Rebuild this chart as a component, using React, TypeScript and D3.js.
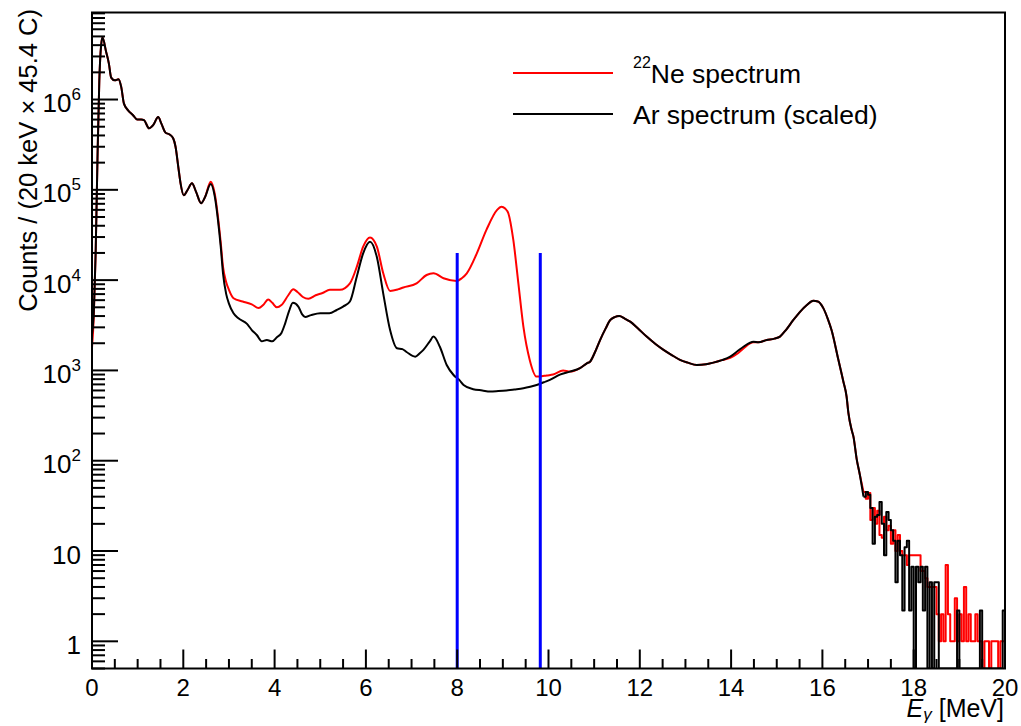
import React from "react";
import * as d3 from "d3";

// ---------- data ----------
// 22Ne spectrum, smooth region (MeV, counts per 20 keV)
const neE = [0.00,0.04,0.08,0.12,0.16,0.20,0.23,0.31,0.37,0.42,0.50,0.58,0.64,0.70,0.79,0.90,0.99,1.08,1.14,1.25,1.34,1.45,1.52,1.61,1.70,1.78,1.83,1.89,1.94,2.01,2.09,2.19,2.28,2.39,2.48,2.60,2.69,2.76,2.82,2.87,2.94,3.00,3.10,3.30,3.50,3.65,3.75,3.86,3.95,4.05,4.15,4.30,4.41,4.50,4.62,4.74,4.90,5.05,5.21,5.43,5.65,5.80,5.94,6.09,6.24,6.38,6.53,6.70,6.82,7.11,7.33,7.48,7.70,7.99,8.10,8.21,8.43,8.64,8.87,8.97,9.05,9.12,9.23,9.34,9.45,9.59,9.74,9.85,9.96,10.10,10.32,10.47,10.69,10.84,10.91,11.02,11.13,11.25,11.35,11.45,11.55,11.67,11.79,11.95,12.15,12.35,12.52,12.70,12.88,13.05,13.25,13.45,13.61,13.80,13.98,14.15,14.27,14.49,14.60,14.78,14.95,15.07,15.20,15.36,15.50,15.66,15.80,15.90,16.02,16.12,16.20,16.35,16.46,16.53,16.57,16.64,16.68,16.75,16.82,16.90];
const neV = [1800,4000,2.0e4,2.2e5,1.6e6,4.0e6,4.85e6,3.36e6,2.5e6,1.75e6,1.63e6,1.68e6,1.38e6,9.0e5,7.6e5,6.7e5,6.0e5,6.0e5,5.9e5,4.8e5,5.2e5,6.4e5,5.4e5,4.3e5,4.1e5,3.7e5,3.0e5,1.8e5,1.18e5,8.7e4,9.9e4,1.18e5,9.5e4,7.1e4,8.4e4,1.23e5,9.0e4,5.0e4,2.6e4,1.4e4,9.5e3,7.8e3,6.3e3,5.8e3,5.4e3,4.9e3,5.3e3,6.1e3,5.6e3,5.0e3,5.3e3,6.8e3,7.9e3,7.4e3,6.5e3,6.2e3,6.8e3,7.2e3,7.8e3,7.8e3,9.2e3,1.4e4,2.35e4,2.97e4,2.35e4,1.19e4,7.6e3,7.9e3,8.3e3,9.2e3,1.14e4,1.19e4,1.05e4,9.8e3,1.05e4,1.19e4,1.98e4,3.6e4,5.96e4,6.5e4,6.2e4,5.5e4,2.77e4,9.2e3,3.05e3,1.3e3,854,860,880,900,1000,970,1060,1200,1250,1600,2170,2900,3600,3900,4000,3750,3470,2950,2370,1950,1690,1480,1310,1220,1150,1170,1220,1300,1380,1550,1750,2050,2050,2170,2250,2370,2800,3600,4400,5300,5900,5800,4900,3700,2800,1310,750,513,336,220,185,105,70,45];

// Ar spectrum (scaled), smooth region
const arE = [0.00,0.04,0.08,0.12,0.16,0.20,0.23,0.31,0.37,0.42,0.50,0.58,0.64,0.70,0.79,0.90,0.99,1.08,1.14,1.25,1.34,1.45,1.52,1.61,1.70,1.78,1.83,1.89,1.94,2.01,2.09,2.19,2.28,2.39,2.48,2.60,2.69,2.76,2.82,2.87,2.94,3.00,3.10,3.20,3.39,3.50,3.61,3.72,3.83,3.95,4.05,4.15,4.23,4.32,4.40,4.52,4.60,4.67,4.80,5.00,5.20,5.36,5.50,5.65,5.80,5.94,6.09,6.24,6.38,6.53,6.68,6.80,6.89,7.08,7.18,7.26,7.40,7.48,7.62,7.77,7.92,8.05,8.14,8.35,8.55,8.72,8.90,9.08,9.25,9.45,9.60,9.74,9.90,10.03,10.25,10.47,10.69,10.84,10.91,11.02,11.13,11.25,11.35,11.45,11.55,11.67,11.79,11.95,12.15,12.35,12.52,12.70,12.88,13.05,13.25,13.45,13.61,13.80,13.98,14.15,14.27,14.49,14.60,14.78,14.95,15.07,15.20,15.36,15.50,15.66,15.80,15.90,16.02,16.12,16.20,16.35,16.46,16.53,16.57,16.64,16.68,16.75,16.82,16.90];
const arV = [2500,4500,2.0e4,2.2e5,1.6e6,4.0e6,4.85e6,3.36e6,2.5e6,1.75e6,1.63e6,1.68e6,1.38e6,9.0e5,7.6e5,6.7e5,6.0e5,6.0e5,5.9e5,4.8e5,5.2e5,6.4e5,5.4e5,4.3e5,4.1e5,3.7e5,3.0e5,1.8e5,1.18e5,8.7e4,9.9e4,1.18e5,9.5e4,7.1e4,8.4e4,1.16e5,8.4e4,4.6e4,2.35e4,1.19e4,7.0e3,5.5e3,4.3e3,3.8e3,3.3e3,2.8e3,2.47e3,2.1e3,2.17e3,2.1e3,2.33e3,2.6e3,3.3e3,4.6e3,5.6e3,5.1e3,4.2e3,3.9e3,4.1e3,4.3e3,4.3e3,4.67e3,5.1e3,5.8e3,1.09e4,1.98e4,2.66e4,1.8e4,7.1e3,2.8e3,1.76e3,1.72e3,1.6e3,1.42e3,1.55e3,1.69e3,2.1e3,2.37e3,1.83e3,1.15e3,890,780,690,620,600,583,590,600,615,635,660,690,740,785,900,970,1060,1200,1250,1600,2170,2900,3600,3900,4000,3750,3470,2950,2370,1950,1690,1480,1310,1220,1150,1170,1220,1300,1420,1650,1830,2080,2050,2170,2250,2370,2800,3600,4400,5300,5900,5800,4900,3700,2800,1310,750,513,336,220,185,105,70,40];

// noisy tail, 50 keV bins starting at 16.90 MeV
const tailStart = 16.9;
const tailBin = 0.05;
const neTail = [45,38,44,22,30,20,28,15,14,24,17,19,12,17,10,15,10,9,9,7,9,9,9,9,9,6,6,5,4,4,4,4,2,1,2,1,7,2,1,1,3,1,2,1,4,1,2,1,1,2,1,1,0,1,1,0,1,1,1,0,1,1];
const arTail = [40,45,42,30,12,24,25,35,20,9,27,22,17,13,4.5,13,9,2.2,11,13,2.2,6.7,0,6.7,4.5,6.7,2.2,6.7,0,4.5,0,4.5,4.5,0,0,0,0,0,0,0,0,2.2,0,0,0,0,0,0,0,0,0,2.2,0,0,0,0,0,0,0,0,0,2.2];

// integration window markers
const windowLines = [8.0, 9.82];
const windowTop = 2.0e4;

const xTicks = [0, 2, 4, 6, 8, 10, 12, 14, 16, 18, 20];
const yDecades = [0, 1, 2, 3, 4, 5, 6];

const legendItems = [
  { sup: "22", label: "Ne spectrum", color: "#ff0000" },
  { sup: "", label: "Ar spectrum (scaled)", color: "#000000" },
];

// ---------- chart ----------
const W = 1021, H = 726;
const L = 92, R = 1005, T = 12.5, B = 668.5;
const YMIN = 0.5, YMAX = 9.2e6;
const FONT = "'Liberation Sans', Arial, Helvetica, sans-serif";

export default function App() {
  const x = d3.scaleLinear().domain([0, 20]).range([L, R]);
  const y = d3.scaleLog().domain([YMIN, YMAX]).range([B, T]);
  const yc = (v: number) => y(Math.max(YMIN, Math.min(YMAX, v)));

  const smooth = d3
    .line<[number, number]>()
    .x((d) => x(d[0]))
    .y((d) => yc(d[1]))
    .curve(d3.curveMonotoneX);
  const step = d3
    .line<[number, number]>()
    .x((d) => x(d[0]))
    .y((d) => yc(d[1]))
    .curve(d3.curveStepAfter);

  const tailPts = (vals: number[]) => {
    const pts: [number, number][] = vals.map((v, i) => [tailStart + i * tailBin, v]);
    pts.push([20, vals[vals.length - 1]]);
    return pts;
  };

  const nePath = smooth(neE.map((e, i) => [e, neV[i]] as [number, number])) || "";
  const arPath = smooth(arE.map((e, i) => [e, arV[i]] as [number, number])) || "";
  const neTailPath = step(tailPts(neTail)) || "";
  const arTailPath = step(tailPts(arTail)) || "";

  // minor ticks
  const xMinor: number[] = [];
  for (let v = 0.5; v < 20; v += 0.5) if (Math.abs(v % 2) > 1e-6) xMinor.push(v);
  const yMinor: number[] = [];
  for (let k = -1; k <= 6; k++)
    for (let m = 2; m <= 9; m++) {
      const v = m * Math.pow(10, k);
      if (v >= YMIN && v <= YMAX) yMinor.push(v);
    }

  return (
    <svg
      width={W}
      height={H}
      style={{ position: "absolute", left: 0, top: 0, display: "block", background: "#fff" }}
      fontFamily={FONT}
    >
      <rect x={0} y={0} width={W} height={H} fill="#fff" />
      <defs>
        <clipPath id="plot">
          <rect x={L} y={T} width={R - L} height={B - T} />
        </clipPath>
      </defs>

      <g clipPath="url(#plot)" fill="none" strokeLinejoin="round">
        <path d={nePath} stroke="#ff0000" strokeWidth={2} />
        <path d={neTailPath} stroke="#ff0000" strokeWidth={2} />
        <path d={arPath} stroke="#000" strokeWidth={2} />
        <path d={arTailPath} stroke="#000" strokeWidth={2} />
        {windowLines.map((e) => (
          <line key={e} x1={x(e)} x2={x(e)} y1={yc(windowTop)} y2={B} stroke="#0000ff" strokeWidth={3} />
        ))}
      </g>

      {/* frame */}
      <rect x={L} y={T} width={R - L} height={B - T} fill="none" stroke="#000" strokeWidth={2} />

      {/* x ticks */}
      {xTicks.map((t) => (
        <line key={"xt" + t} x1={x(t)} x2={x(t)} y1={B} y2={B - 19} stroke="#000" strokeWidth={2} />
      ))}
      {xMinor.map((t) => (
        <line key={"xm" + t} x1={x(t)} x2={x(t)} y1={B} y2={B - 9.5} stroke="#000" strokeWidth={2} />
      ))}
      {xTicks.map((t) => (
        <text key={"xl" + t} x={x(t)} y={695.5} fontSize={24} textAnchor="middle" fill="#000">
          {t}
        </text>
      ))}

      {/* y ticks */}
      {yDecades.map((k) => (
        <line key={"yt" + k} x1={L} x2={L + 26} y1={y(Math.pow(10, k))} y2={y(Math.pow(10, k))} stroke="#000" strokeWidth={2} />
      ))}
      {yMinor.map((v) => (
        <line key={"ym" + v} x1={L} x2={L + 13} y1={y(v)} y2={y(v)} stroke="#000" strokeWidth={2} />
      ))}
      {yDecades.map((k) => {
        const yy = y(Math.pow(10, k)) + 12.5;
        if (k === 0)
          return (
            <text key={"yl" + k} x={81} y={yy} fontSize={26} textAnchor="end">1</text>
          );
        if (k === 1)
          return (
            <text key={"yl" + k} x={81} y={yy} fontSize={26} textAnchor="end">10</text>
          );
        return (
          <text key={"yl" + k} x={81} y={yy} fontSize={26} textAnchor="end">
            10
            <tspan fontSize={17} dy={-12}>{k}</tspan>
          </text>
        );
      })}

      {/* axis titles */}
      <text transform="translate(37,9) rotate(-90)" fontSize={25.5} textAnchor="end" fill="#000">
        Counts / (20 keV × 45.4 C)
      </text>
      <text x={1004} y={717} fontSize={25} textAnchor="end" fill="#000">
        <tspan fontStyle="italic">E</tspan>
        <tspan fontStyle="italic" fontSize={17} dy={3}>γ</tspan>
        <tspan dy={-3}> [MeV]</tspan>
      </text>

      {/* legend */}
      {legendItems.map((it, i) => {
        const ly = 73 + i * 41;
        return (
          <g key={it.label}>
            <line x1={513} x2={613} y1={ly} y2={ly} stroke={it.color} strokeWidth={2} />
            <text x={633} y={ly + 10} fontSize={26.5} fill="#000">
              {it.sup ? (
                <>
                  <tspan fontSize={16} dy={-15}>{it.sup}</tspan>
                  <tspan dy={15}>{it.label}</tspan>
                </>
              ) : (
                it.label
              )}
            </text>
          </g>
        );
      })}
    </svg>
  );
}
